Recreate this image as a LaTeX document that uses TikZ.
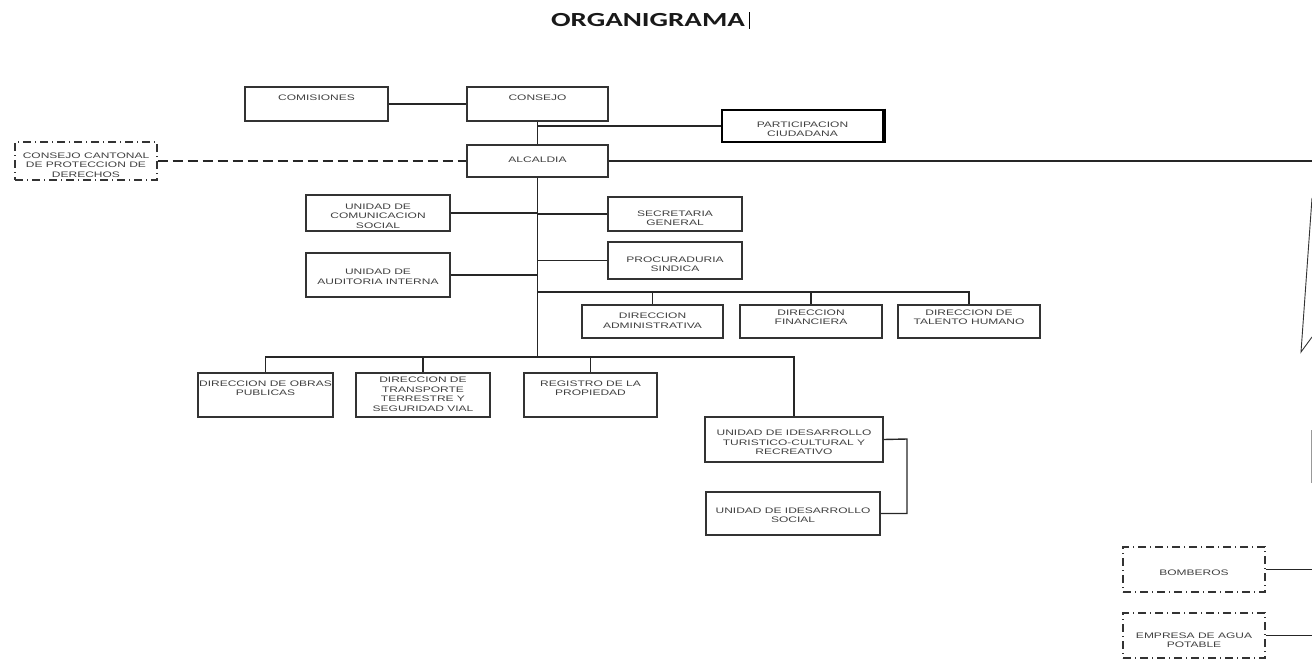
\documentclass[tikz,border=0pt]{standalone}
\usepackage{fontspec}
\newfontfamily\bxf[FakeStretch=1.5]{Liberation Sans}
\newfontfamily\ttlf[FakeStretch=1.45]{Carlito}
\usetikzlibrary{calc}
\tikzset{
  box/.style={draw=black!80, line width=1.4pt, rectangle, inner sep=0pt},
  dbox/.style={draw=black!80, line width=1.3pt, rectangle, inner sep=0pt, dash pattern=on 8pt off 4pt on 1pt off 4pt},
  pbox/.style={draw=black, line width=2.6pt, rectangle, inner sep=0pt},
  txt/.style={align=center, inner sep=0pt, text=black!75, font={\bxf\fontsize{8pt}{9.5pt}\selectfont}},
  conn/.style={draw=black!85, line width=1.4pt},
  dconn/.style={draw=black!85, line width=1.3pt, dash pattern=on 10pt off 5pt},
  fine/.style={draw=black!80, line width=0.9pt},
}
\newcommand\obox[8][box]{%
  \node[#1, minimum width={(#5-#3)*1pt}, minimum height={(#6-#4)*1pt}] (#2) at ({(#3+#5)/2},{(#4+#6)/2}) {};
  \node[txt] (#2-t) at ({(#3+#5)/2},#7) {#8};
}
\begin{document}
\begin{tikzpicture}[x=1pt,y=-1pt]
\useasboundingbox (0,0) rectangle (1312,659);
% title
\node[inner sep=0pt, font={\ttlf\bfseries\fontsize{20pt}{24pt}\selectfont}, text=black!90] (title) at (648,20.5) {ORGANIGRAMA};
\coordinate (cur1) at (749,12);
\coordinate (cur2) at (749,29);
\draw[black, line width=1pt] (cur1) -- (cur2);

% boxes
\obox{com}{245}{87}{388}{121}{98}{COMISIONES}
\obox{con}{467}{87}{608}{121}{98}{CONSEJO}
\obox[pbox]{par}{722}{110}{883}{142}{129}{PARTICIPACION\\CIUDADANA}
\draw[black, line width=2.6pt] (par.north east) -- (par.south east);
\obox{alc}{467}{145}{608}{177}{160}{ALCALDIA}
\obox[dbox]{ccp}{15}{142}{157}{180}{165}{CONSEJO CANTONAL\\DE PROTECCION DE\\DERECHOS}
\obox{ucs}{306}{195}{450}{231}{216}{UNIDAD DE\\COMUNICACION\\SOCIAL}
\obox{uai}{306}{253}{450}{297}{277}{UNIDAD DE\\AUDITORIA INTERNA}
\obox{sg}{608}{197}{742}{231}{218}{SECRETARIA\\GENERAL}
\obox{ps}{608}{242}{742}{279}{264}{PROCURADURIA\\SINDICA}
\obox{da}{582}{305}{723}{338}{320.5}{DIRECCION\\ADMINISTRATIVA}
\obox{df}{740}{305}{882}{338}{317}{DIRECCION\\FINANCIERA}
\obox{dth}{898}{305}{1040}{338}{317}{DIRECCION DE\\TALENTO HUMANO}
\obox{dop}{198}{373}{333}{417}{388}{DIRECCION DE OBRAS\\PUBLICAS}
\obox{dtt}{356}{373}{490}{417}{394}{DIRECCION DE\\TRANSPORTE\\TERRESTRE Y\\SEGURIDAD VIAL}
\obox{rp}{524}{373}{657}{417}{388}{REGISTRO DE LA\\PROPIEDAD}
\obox{udt}{705}{417}{883}{462}{442.5}{UNIDAD DE IDESARROLLO\\TURISTICO-CULTURAL Y\\RECREATIVO}
\obox{uds}{706}{492}{880}{535}{515}{UNIDAD DE IDESARROLLO\\SOCIAL}
\obox[dbox]{bom}{1123}{547}{1265}{592}{573}{BOMBEROS}
\obox[dbox]{eap}{1123}{613}{1265}{658}{640}{EMPRESA DE AGUA\\POTABLE}

% connectors
\coordinate (pj) at (537.5,126);
\coordinate (tb) at (537.5,357);
\coordinate (r2) at (537.5,292);
\coordinate (re) at (1312,161);
\coordinate (bk) at (907,439);
\draw[conn] (com.east) -- (con.west);
\draw[conn] (con.south) -- (alc.north);
\draw[conn] (pj) -- (par.west);
\draw[conn] (alc.south) -- (tb);
\draw[conn] (alc.east) -- (re);
\draw[dconn] (ccp.east) -- (alc.west);
\draw[conn] (ucs.east) -- (ucs.east -| tb);
\draw[conn] (uai.east) -- (uai.east -| tb);
\draw[conn] (sg.west) -- (sg.west -| tb);
\draw[conn] (ps.west) -- (ps.west -| tb);
\draw[conn] (r2) -- (dth.north |- r2) -- (dth.north);
\draw[conn] (da.north |- r2) -- (da.north);
\draw[conn] (df.north |- r2) -- (df.north);
\draw[conn] (dop.north) -- (dop.north |- tb) -- (udt.north |- tb) -- (udt.north);
\draw[conn] (dtt.north |- tb) -- (dtt.north);
\draw[conn] (rp.north |- tb) -- (rp.north);
\draw[conn] (udt.east) -- (bk) -- (bk |- uds.east) -- (uds.east);
\draw[conn] (bom.east) -- (bom.east -| re);
\draw[conn] (eap.east) -- (eap.east -| re);

% fragments at right edge
\coordinate (s1) at (1312,198);
\coordinate (s2) at (1301,352);
\coordinate (s3) at (1312,337);
\draw[fine] (s1) -- (s2) -- (s3);
\coordinate (v1) at (1311,430);
\coordinate (v2) at (1311,483);
\draw[draw=black!40, line width=0.8pt] (v1) -- (v2);
\end{tikzpicture}
\end{document}
